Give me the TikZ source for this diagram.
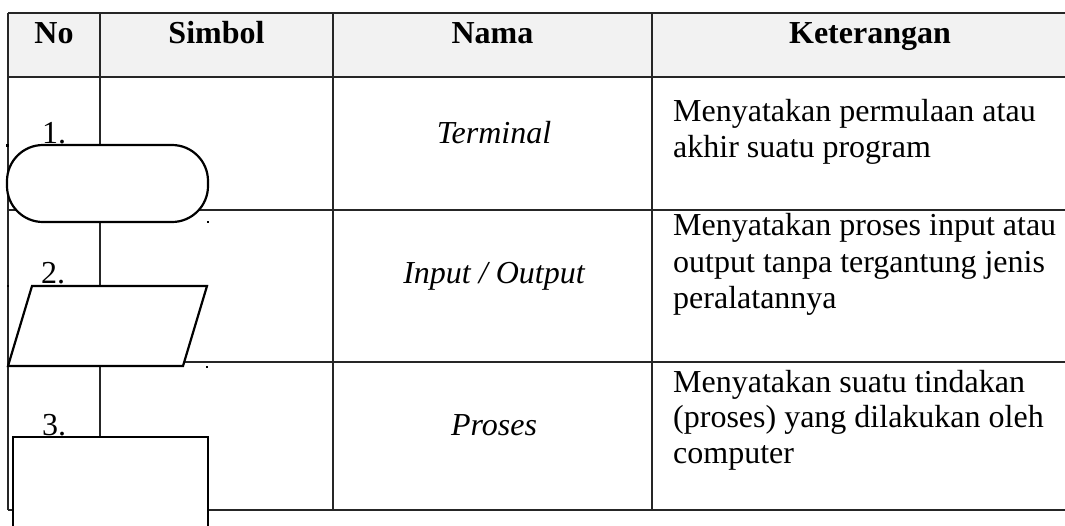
\documentclass[tikz,border=0pt]{standalone}
\usepackage{fontspec}
\setmainfont{Liberation Serif}
\begin{document}
\begin{tikzpicture}[x=1pt,y=-1pt,
  grid/.style={draw=black!85,line width=1.2pt},
  shapeline/.style={draw=black,line width=2.2pt,fill=white},
  txt/.style={inner sep=0pt,font=\fontsize{32}{36}\selectfont},
  head/.style={txt,font=\fontsize{32}{36}\selectfont\bfseries,anchor=base},
  namecell/.style={txt,font=\fontsize{32}{36}\selectfont\itshape,anchor=base},
  desc/.style={txt,anchor=base west},
  num/.style={txt,anchor=base},
  anchordot/.style={fill=black,inner sep=0pt,minimum size=2.2pt,draw=none,rectangle}
]
\useasboundingbox (0,0) rectangle (1065,525);
\clip (0,0) rectangle (1065,525);
% header background
\fill[black!5] (8,13) rectangle (1070,77);
% grid lines
\foreach \yy in {13,77,210,362,510} \draw[grid] (8,\yy) -- (1070,\yy);
\foreach \xx in {8,100,333,652} \draw[grid] (\xx,13) -- (\xx,510);
% header texts
\node[head] (hNo) at (54,43) {No};
\node[head] (hSim) at (216.5,43) {Simbol};
\node[head] (hNama) at (492.5,43) {Nama};
\node[head] (hKet) at (870,43) {Keterangan};
% numbers
\node[num] (n1) at (54,143) {1.};
\node[num] (n2) at (53,283) {2.};
\node[num] (n3) at (54,435) {3.};
% names
\node[namecell] (nm1) at (494,143) {Terminal};
\node[namecell] (nm2) at (494,283) {Input / Output};
\node[namecell] (nm3) at (494,435) {Proses};
% descriptions
\node[desc] (k1a) at (673,121) {Menyatakan permulaan atau};
\node[desc] (k1b) at (673,157) {akhir suatu program};
\node[desc] (k2a) at (673,235) {Menyatakan proses input atau};
\node[desc] (k2b) at (673,272) {output tanpa tergantung jenis};
\node[desc] (k2c) at (673,308) {peralatannya};
\node[desc] (k3a) at (673,392) {Menyatakan suatu tindakan};
\node[desc] (k3b) at (673,427) {(proses) yang dilakukan oleh};
\node[desc] (k3c) at (673,463) {computer};
% symbols
\draw[shapeline,rounded corners=36pt] (7,145) rectangle (208,222);
\draw[shapeline] (32,286) -- (207,286) -- (183,366) -- (8,366) -- cycle;
\draw[shapeline] (13,437) rectangle (208,540);
% anchor dots
\node[anchordot] (d1) at (7.5,145.5) {};
\node[anchordot] (d2) at (208,222) {};
\node[anchordot] (d3) at (8,286) {};
\node[anchordot] (d4) at (207,367) {};
\end{tikzpicture}
\end{document}
